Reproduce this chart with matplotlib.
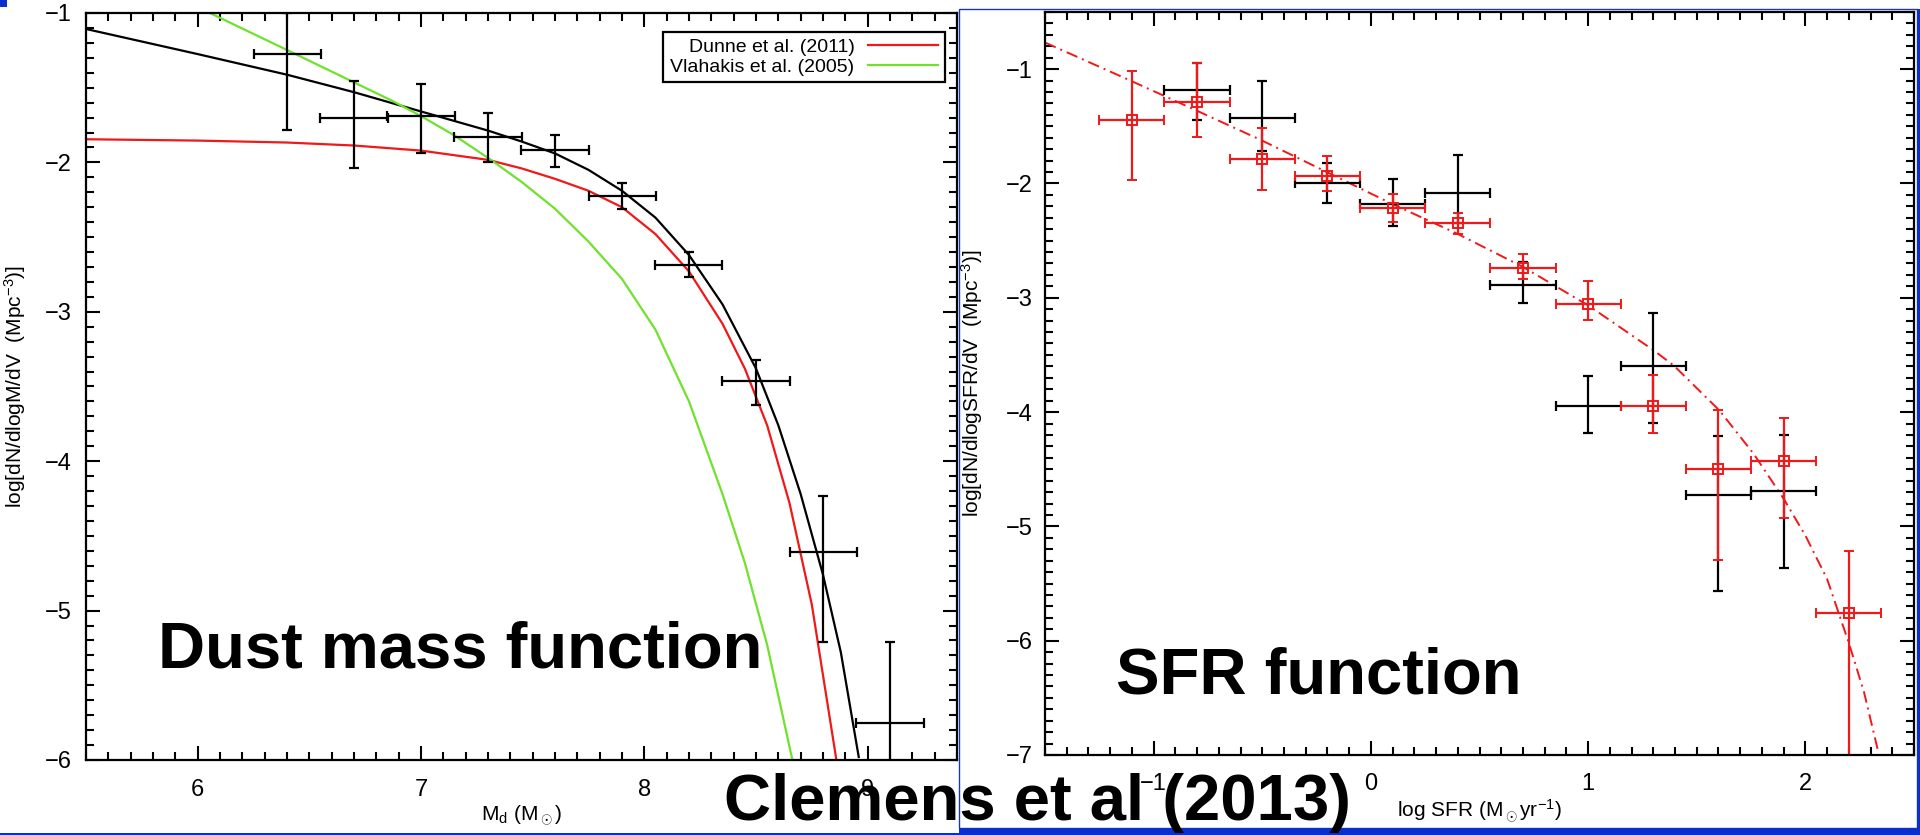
import numpy as np
import matplotlib
matplotlib.use('Agg')
import matplotlib.pyplot as plt
from matplotlib.ticker import MultipleLocator
from matplotlib.patches import Rectangle

plt.rcParams['font.family'] = ['Liberation Sans', 'DejaVu Sans']
plt.rcParams['mathtext.fontset'] = 'custom'
plt.rcParams['mathtext.rm'] = 'Liberation Sans'
plt.rcParams['mathtext.it'] = 'Liberation Sans:italic'

# ---- dust mass function (log Md, log phi)
md_x = [6.4, 6.7, 7.0, 7.3, 7.6, 7.9, 8.2, 8.5, 8.8, 9.1]
md_y = [-1.275, -1.70, -1.69, -1.83, -1.92, -2.225, -2.685, -3.465, -4.61, -5.75]
md_hi = [-1.0, -1.454, -1.474, -1.67, -1.816, -2.14, -2.60, -3.32, -4.23, -5.21]
md_lo = [-1.78, -2.04, -1.94, -2.00, -2.028, -2.31, -2.765, -3.626, -5.21, -7.0]
md_bin = 0.15

# schechter fit to our points
fit_x = [5.5, 6.0, 6.4, 6.7, 7.0, 7.3, 7.45, 7.6, 7.75, 7.9, 8.05, 8.2, 8.35,
         8.5, 8.6, 8.7, 8.8, 8.88, 8.96]
fit_y = [-1.107, -1.275, -1.413, -1.53, -1.659, -1.787, -1.86, -1.94, -2.05, -2.19,
         -2.37, -2.62, -2.95, -3.38, -3.76, -4.22, -4.76, -5.28, -5.98]

dunne_x = [5.5, 6.0, 6.4, 6.7, 7.0, 7.3, 7.45, 7.6, 7.75, 7.9, 8.05, 8.2, 8.35,
           8.45, 8.55, 8.65, 8.75, 8.86]
dunne_y = [-1.845, -1.854, -1.867, -1.887, -1.921, -1.983, -2.04, -2.11, -2.19, -2.30,
           -2.48, -2.73, -3.08, -3.38, -3.76, -4.28, -4.96, -6.0]

vlahakis_x = [6.055, 6.438, 6.877, 7.0, 7.15, 7.31, 7.45, 7.6, 7.75, 7.9, 8.05, 8.2,
              8.35, 8.45, 8.55, 8.663]
vlahakis_y = [-1.0, -1.275, -1.592, -1.69, -1.82, -1.98, -2.13, -2.31, -2.53, -2.78,
              -3.12, -3.6, -4.22, -4.68, -5.23, -6.0]

# ---- SFR function (log SFR, log phi)
sfr_red_x = [-1.1, -0.8, -0.5, -0.2, 0.1, 0.4, 0.7, 1.0, 1.3, 1.6, 1.9, 2.2]
sfr_red_y = [-1.445, -1.285, -1.786, -1.932, -2.214, -2.348, -2.741, -3.058, -3.95, -4.502, -4.427, -5.754]
sfr_red_hi = [-1.02, -0.942, -1.515, -1.763, -2.092, -2.261, -2.616, -2.849, -3.677, -3.981, -4.054, -5.215]
sfr_red_lo = [-1.967, -1.597, -2.054, -2.068, -2.339, -2.441, -2.834, -3.198, -4.182, -5.297, -4.925, -8.0]

sfr_blk_x = [-0.8, -0.5, -0.2, 0.1, 0.4, 0.7, 1.0, 1.3, 1.6, 1.9]
sfr_blk_y = [-1.183, -1.428, -1.999, -2.179, -2.086, -2.884, -3.95, -3.594, -4.729, -4.691]
sfr_blk_hi = [-0.942, -1.102, -1.824, -1.961, -1.751, -2.689, -3.681, -3.134, -4.205, -4.197]
sfr_blk_lo = [-1.442, -1.713, -2.17, -2.374, -2.35, -3.044, -4.182, -4.098, -5.568, -5.361]
sfr_bin = 0.15

sfr_fit_x = [-1.5, -1.107, -0.805, -0.506, -0.203, 0.099, 0.398, 0.70, 1.003, 1.304,
             1.395, 1.605, 1.762, 1.9, 2.0, 2.1, 2.2, 2.27, 2.337]
sfr_fit_y = [-0.767, -1.10, -1.36, -1.62, -1.90, -2.18, -2.44, -2.73, -3.07, -3.463,
             -3.594, -3.987, -4.365, -4.758, -5.08, -5.46, -6.02, -6.45, -6.985]

BLUE = '#0b2fcf'
RED = '#f01818'
GREEN = '#6ee22c'

W, H = 1920, 835
fig = plt.figure(figsize=(W / 100, H / 100), dpi=100)
fig.patch.set_facecolor('white')


def px_box(x0, y0, x1, y1):
    # pixel box (top-left origin) -> figure fraction rect
    return [x0 / W, 1 - y1 / H, (x1 - x0) / W, (y1 - y0) / H]


def idl_axes(ax, xminor, yminor):
    for s in ax.spines.values():
        s.set_linewidth(1.6)
    ax.xaxis.set_minor_locator(MultipleLocator(xminor))
    ax.yaxis.set_minor_locator(MultipleLocator(yminor))
    ax.tick_params(which='both', direction='in', top=True, right=True, width=1.5, colors='black')
    ax.tick_params(which='major', length=10)
    ax.tick_params(which='minor', length=6)
    ax.tick_params(axis='both', labelsize=17)


def errs(y, hi, lo):
    y = np.array(y)
    return np.vstack([y - np.array(lo), np.array(hi) - y])


# left panel
ax1 = fig.add_axes(px_box(86, 13, 957, 760))
ax1.set_xlim(5.5, 9.4)
ax1.set_ylim(-6, -1)
idl_axes(ax1, 0.1, 0.1)
ax1.xaxis.set_major_locator(MultipleLocator(1))
ax1.yaxis.set_major_locator(MultipleLocator(1))
ax1.tick_params(axis='y', pad=10)
ax1.tick_params(axis='x', pad=14)

ax1.plot(fit_x, fit_y, color='black', lw=1.6)
ax1.plot(dunne_x, dunne_y, color=RED, lw=1.6, label='Dunne et al. (2011)')
ax1.plot(vlahakis_x, vlahakis_y, color=GREEN, lw=1.6, label='Vlahakis et al. (2005)')
ax1.errorbar(md_x, md_y, xerr=md_bin, yerr=errs(md_y, md_hi, md_lo), fmt='none',
             ecolor='black', elinewidth=1.6, capsize=3.5, capthick=1.6)

leg = ax1.legend(loc='upper right', bbox_to_anchor=(0.986, 0.975), markerfirst=False,
                 fancybox=False, framealpha=1, edgecolor='black', fontsize=14,
                 handlelength=3.6, handletextpad=0.7, borderpad=0.35, labelspacing=0.1,
                 borderaxespad=0)
leg.get_frame().set_linewidth(1.6)

ax1.set_xlabel(r'M$_\mathrm{d}$ (M$_\odot$)', fontsize=15)
ax1.xaxis.set_label_coords(0.5, -0.058)
ax1.set_ylabel(r'log[dN/dlogM/dV  (Mpc$^{-3}$)]', fontsize=15)
ax1.yaxis.set_label_coords(-0.067, 0.5)

# right panel
ax2 = fig.add_axes(px_box(1045, 12, 1914, 755))
ax2.set_xlim(-1.5, 2.5)
ax2.set_ylim(-7, -0.5)
idl_axes(ax2, 0.1, 0.1)
ax2.xaxis.set_major_locator(MultipleLocator(1))
ax2.yaxis.set_major_locator(MultipleLocator(1))
ax2.tick_params(axis='y', pad=9)
ax2.tick_params(axis='x', pad=13)

ax2.plot(sfr_fit_x, sfr_fit_y, color=RED, lw=1.4, ls=(0, (6, 2.6, 1, 2.6)))
ax2.errorbar(sfr_blk_x, sfr_blk_y, xerr=sfr_bin, yerr=errs(sfr_blk_y, sfr_blk_hi, sfr_blk_lo),
             fmt='none', ecolor='black', elinewidth=1.6, capsize=3.5, capthick=1.6)
ax2.errorbar(sfr_red_x, sfr_red_y, xerr=sfr_bin, yerr=errs(sfr_red_y, sfr_red_hi, sfr_red_lo),
             fmt='s', ms=7, mfc='none', mec=RED, mew=1.4, ecolor=RED, elinewidth=1.6,
             capsize=3.5, capthick=1.6)

ax2.set_xlabel(r'log SFR (M$_\odot$yr$^{-1}$)', fontsize=15)
ax2.xaxis.set_label_coords(0.5, -0.058)
ax2.set_ylabel(r'log[dN/dlogSFR/dV  (Mpc$^{-3}$)]', fontsize=15)
ax2.yaxis.set_label_coords(-0.069, 0.5)

# slide frame
fig.add_artist(Rectangle((959 / W, 1 - 828 / H), (1917 - 959) / W, (828 - 9) / H,
                         transform=fig.transFigure, fill=False, ec='#1a3aa8', lw=1))
for box in [(0, 833, 1920, 835), (959, 828, 1920, 835), (1917, 9, 1920, 835), (0, 0, 7, 7)]:
    x, y, w, h = px_box(*box)
    fig.add_artist(Rectangle((x, y), w, h, transform=fig.transFigure, fc=BLUE, ec='none'))

big = dict(fontsize=47, fontweight='bold', color='black', ha='left', va='baseline')
fig.text(158 / W, 1 - 667 / H, 'Dust mass function', **big)
fig.text(1116 / W, 1 - 693 / H, 'SFR function', **big)
fig.text(724 / W, 1 - 820 / H, 'Clemens et al (2013)', **big)

fig.savefig('out.png', dpi=100, facecolor='white')
